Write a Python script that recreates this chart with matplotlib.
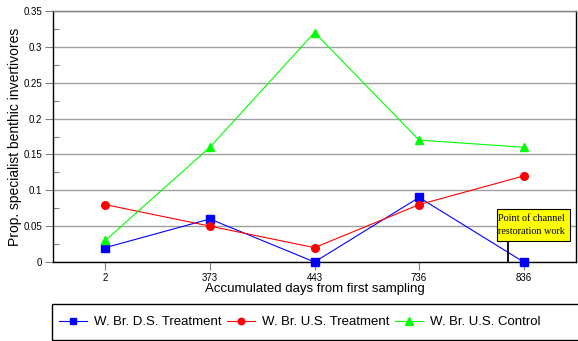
import matplotlib
matplotlib.use("Agg")
import matplotlib.pyplot as plt
from matplotlib.patches import Rectangle

plt.rcParams['font.family'] = ['Liberation Sans', 'DejaVu Sans']

categories = ["2", "373", "443", "736", "836"]
ds_treatment = [0.02, 0.06, 0.0, 0.09, 0.0]
us_treatment = [0.08, 0.05, 0.02, 0.08, 0.12]
us_control = [0.03, 0.16, 0.32, 0.17, 0.16]
series_names = ["W. Br. D.S. Treatment", "W. Br. U.S. Treatment", "W. Br. U.S. Control"]
ytick_values = [0, 0.05, 0.1, 0.15, 0.2, 0.25, 0.3, 0.35]
ytick_labels = ["0", "0.05", "0.1", "0.15", "0.2", "0.25", "0.3", "0.35"]
yminor_values = [0.025, 0.075, 0.125, 0.175, 0.225, 0.275, 0.325]

fig = plt.figure(figsize=(5.78, 3.41), dpi=100)
ax = fig.add_axes([53/578, 1-262/341, 523/578, 251/341])

x = list(range(len(categories)))
ax.plot(x, ds_treatment, color="#0000ff", lw=0.8, marker="s", ms=5.5, label=series_names[0], zorder=3, clip_on=False)
ax.plot(x, us_treatment, color="#ff0000", lw=0.8, marker="o", ms=5.5, label=series_names[1], zorder=3, clip_on=False)
ax.plot(x, us_control, color="#00ff00", lw=0.8, marker="^", ms=6, label=series_names[2], zorder=3, clip_on=False)

ax.set_xlim(-0.5, len(categories) - 0.5)
ax.set_ylim(0, 0.35)
ax.set_xticks(x)
ax.set_xticklabels(categories)
ax.set_yticks(ytick_values)
ax.set_yticklabels(ytick_labels)
ax.set_yticks(yminor_values, minor=True)
ax.tick_params(axis='both', which='major', labelsize=7, length=6, width=0.8, color="#808080", direction='out', pad=2)
ax.tick_params(axis='y', which='minor', length=4, width=0.8, color="#808080", direction='in')
ax.yaxis.grid(True, which='major', color="#a0a0a0", lw=1)
ax.set_axisbelow(True)
for s in ["left", "bottom", "right"]:
    ax.spines[s].set_color("black")
    ax.spines[s].set_linewidth(1)
ax.spines["top"].set_color("#808080")
ax.spines["top"].set_linewidth(1)

ax.set_xlabel("Accumulated days from first sampling", fontsize=9.5, labelpad=0)
ax.set_ylabel("Prop. specialist benthic invertivores", fontsize=10, labelpad=0.5)

# annotation
ax.plot([3.85, 3.85], [0, 0.029], color="black", lw=1.3, zorder=4, clip_on=False)
ax.add_patch(Rectangle((3.74, 0.029), 0.707, 0.045, fc="#ffff00", ec="black", lw=0.8, zorder=5))
ax.text(3.755, 0.0515, "Point of channel\nrestoration work", fontsize=7.3, family="Liberation Serif",
        ha="left", va="center", linespacing=1.5, zorder=6)

# legend
fig.patches.append(Rectangle((52/578, 1/341), 530/578, 36/341, transform=fig.transFigure,
                             fc="white", ec="black", lw=1, zorder=0))
leg = fig.legend(loc="center left", bbox_to_anchor=(59/578, 19/341),
                 ncol=3, fontsize=9.5, frameon=False, handlelength=2.1,
                 borderaxespad=0, columnspacing=0.45, handletextpad=0.53, borderpad=0,
                 markerscale=0.85)

fig.savefig("out.png", dpi=100)
